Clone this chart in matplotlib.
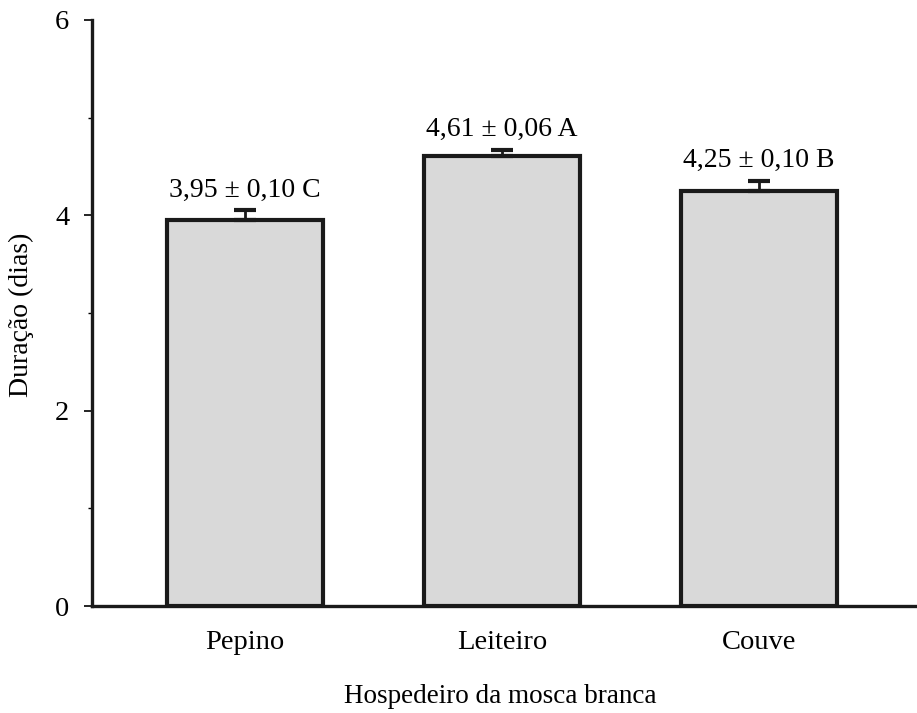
import matplotlib
matplotlib.use("Agg")
import matplotlib.pyplot as plt
from matplotlib.ticker import MultipleLocator

categories = ["Pepino", "Leiteiro", "Couve"]
values = [3.95, 4.61, 4.25]
errors = [0.10, 0.06, 0.10]
labels = ["3,95 ± 0,10 C", "4,61 ± 0,06 A", "4,25 ± 0,10 B"]
yticks = [0, 2, 4, 6]

plt.rcParams['font.family'] = ['Liberation Serif', 'DejaVu Serif']

fig = plt.figure(figsize=(9.17, 7.13), dpi=100)
ax = fig.add_axes([0.100, 0.150, 0.900, 0.822])

x = list(range(len(categories)))
ax.bar(x, values, width=0.607, color="#d9d9d9", edgecolor="#1a1a1a", linewidth=3.0, zorder=2)
ax.errorbar(x, values, yerr=[[0]*3, errors], fmt="none", ecolor="#1a1a1a",
            elinewidth=2.0, capsize=8, capthick=3.0, zorder=3)
for xi, v, e, lab in zip(x, values, errors, labels):
    ax.annotate(lab, (xi, v + e), xytext=(0, 10), textcoords="offset points",
                ha="center", va="baseline", fontsize=20)

ax.set_xlim(-0.595, 2.615)
ax.set_ylim(0, 6)
ax.set_yticks(yticks)
ax.yaxis.set_minor_locator(MultipleLocator(1))
ax.set_xticks(x)
ax.set_xticklabels(categories, fontsize=20.5)
ax.tick_params(axis="x", length=0, pad=17)
ax.tick_params(axis="y", which="major", length=6, width=1.2, labelsize=20.5, pad=10)
ax.tick_params(axis="y", which="minor", length=3, width=1.0)
for s in ["top", "right"]:
    ax.spines[s].set_visible(False)
for s in ["left", "bottom"]:
    ax.spines[s].set_linewidth(2.4)
    ax.spines[s].set_color("#1a1a1a")

fig.text(0.023, 0.558, "Duração (dias)", rotation=90, ha="center", va="center", fontsize=20)
fig.text(0.545, 0.014, "Hospedeiro da mosca branca", ha="center", va="baseline", fontsize=19.5)

fig.savefig("out.png", dpi=100)
